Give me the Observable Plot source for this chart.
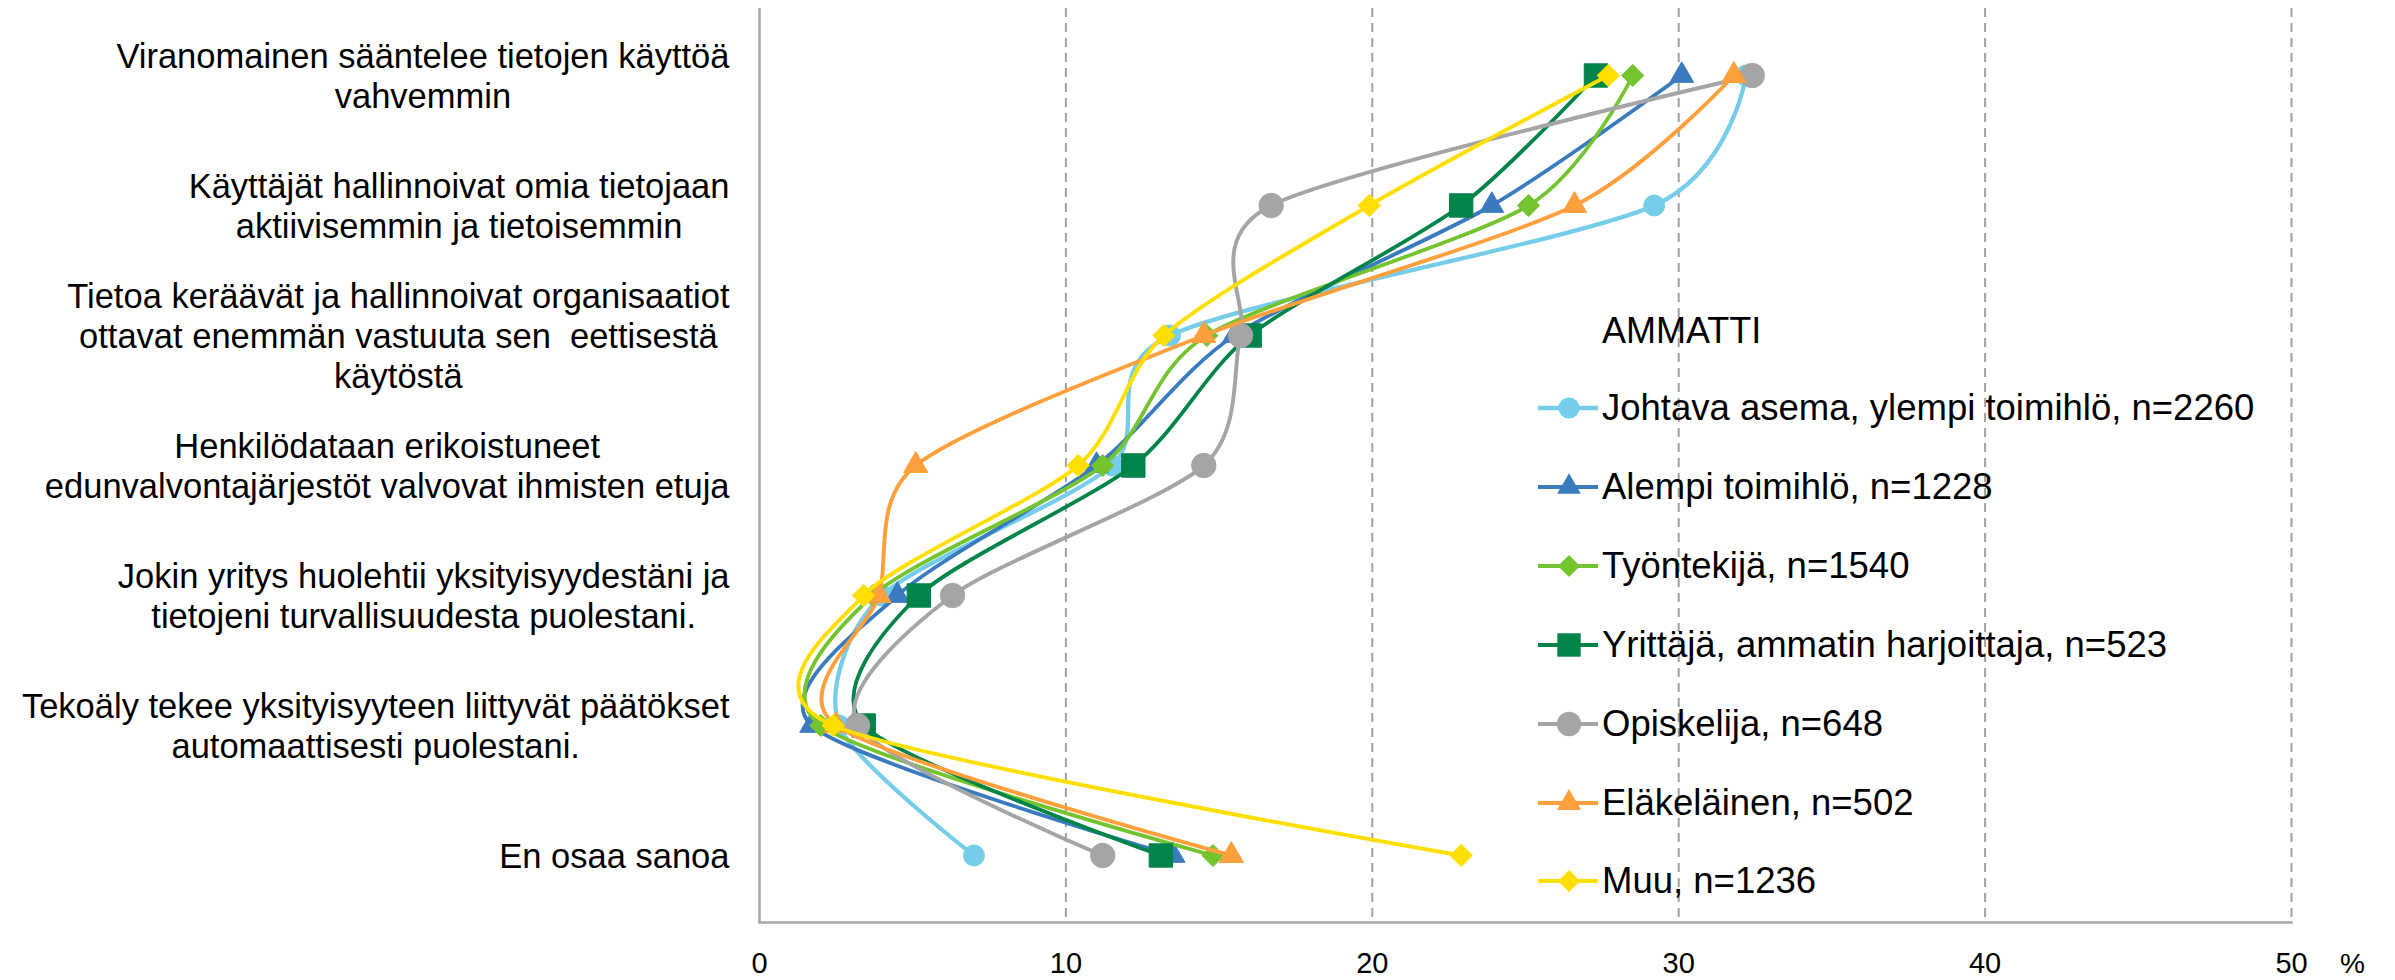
<!DOCTYPE html>
<html><head><meta charset="utf-8">
<script src="https://cdn.jsdelivr.net/npm/d3@7"></script>
<script src="https://cdn.jsdelivr.net/npm/@observablehq/plot@0.6"></script>
<style>
html,body{margin:0;padding:0;background:#fff;}
#wrap{position:relative;width:2395px;height:980px;font-family:"Liberation Sans",Arial,sans-serif;color:#000;}
#legend{position:absolute;left:0;top:0;}
.lg-title{position:absolute;font-size:36px;line-height:40px;white-space:nowrap;}
.lg-row{position:absolute;height:40px;white-space:nowrap;}
.lg-row svg{position:absolute;left:0;top:0;}
.lg-row span{position:absolute;left:66px;top:0;font-size:36.5px;line-height:40px;}
</style></head><body><div id="wrap"></div>
<script>
// ---- data ----
const categories = [
  "Viranomainen sääntelee tietojen käyttöä\nvahvemmin",
  "Käyttäjät hallinnoivat omia tietojaan\naktiivisemmin ja tietoisemmin",
  "Tietoa keräävät ja hallinnoivat organisaatiot\nottavat enemmän vastuuta sen  eettisestä\nkäytöstä",
  "Henkilödataan erikoistuneet\nedunvalvontajärjestöt valvovat ihmisten etuja",
  "Jokin yritys huolehtii yksityisyydestäni ja\ntietojeni turvallisuudesta puolestani.",
  "Tekoäly tekee yksityisyyteen liittyvät päätökset\nautomaattisesti puolestani.",
  "En osaa sanoa"
];
const seriesNames = [
  "Johtava asema, ylempi toimihlö, n=2260",
  "Alempi toimihlö, n=1228",
  "Työntekijä, n=1540",
  "Yrittäjä, ammatin harjoittaja, n=523",
  "Opiskelija, n=648",
  "Eläkeläinen, n=502",
  "Muu, n=1236"
];
const johtava     = [32.2, 29.2, 13.4, 11.5, 4.0, 2.6, 7.0];
const alempi      = [30.1, 23.9, 15.5, 11.0, 4.5, 1.7, 13.5];
const tyontekija  = [28.5, 25.1, 14.6, 11.2, 3.7, 2.0, 14.8];
const yrittaja    = [27.3, 22.9, 16.0, 12.2, 5.2, 3.4, 13.1];
const opiskelija  = [32.4, 16.7, 15.7, 14.5, 6.3, 3.2, 11.2];
const elakelainen = [31.8, 26.6, 14.5, 5.1, 3.9, 2.5, 15.4];
const muu         = [27.7, 19.9, 13.2, 10.4, 3.4, 2.4, 22.9];
const xTicks = [0, 10, 20, 30, 40, 50];
const legendTitle = "AMMATTI";
const unitLabel = "%";

// ---- styling ----
const seriesValues = [johtava, alempi, tyontekija, yrittaja, opiskelija, elakelainen, muu];
const colors  = ["#76CDEA", "#3A7BBF", "#74C42F", "#00844A", "#A5A5A5", "#FFA03C", "#FFDF00"];
const symbols = ["circle", "triangle", "diamond2", "square", "circle", "triangle", "diamond2"];
const radii   = [10.5, 8.8, 10, 13.2, 12.2, 9, 10];
const widths  = [4.3, 3.8, 3.8, 3.8, 3.9, 3.9, 3.9];
const FONT = '"Liberation Sans", Arial, sans-serif';
const W = 2395, H = 980;
const mL = 759, mR = 104, mT = 8, mB = 58;
const catFont = 34.5;

const curve = d3.curveCardinal.tension(0.2);

const ctx = document.createElement("canvas").getContext("2d");
ctx.font = `${catFont}px ${FONT}`;
const labelRight = 729;

const marks = [];
marks.push(Plot.ruleX(xTicks.filter(d => d > 0), {stroke: "#A0A0A0", strokeWidth: 2, strokeDasharray: "9,6"}));
marks.push(Plot.ruleX([0], {stroke: "#A6A6A6", strokeWidth: 2.5}));
marks.push(Plot.frame({anchor: "bottom", stroke: "#A6A6A6", strokeWidth: 2.5}));

seriesNames.forEach((name, i) => {
  const rows = categories.map((c, j) => ({series: name, category: c, value: seriesValues[i][j]}));
  marks.push(Plot.line(rows, {x: "value", y: "category", stroke: colors[i], strokeWidth: widths[i], curve}));
  marks.push(Plot.dot(rows, {x: "value", y: "category", symbol: symbols[i], r: radii[i], fill: colors[i], stroke: colors[i], strokeWidth: 1}));
});

categories.forEach(c => {
  const w = d3.max(c.split("\n"), s => ctx.measureText(s).width);
  marks.push(Plot.text([c], {
    y: d => d, text: d => d, frameAnchor: "left",
    dx: labelRight - w / 2 - mL, textAnchor: "middle", lineAnchor: "middle",
    lineHeight: 1.16, fontSize: catFont, fill: "#000"
  }));
});

marks.push(Plot.text([unitLabel], {text: d => d, frameAnchor: "bottom-right", dx: 61, dy: 42,
  textAnchor: "middle", lineAnchor: "middle", fontSize: 28, fill: "#000"}));

const chart = Plot.plot({
  width: W, height: H,
  marginLeft: mL, marginRight: mR, marginTop: mT, marginBottom: mB,
  style: {fontFamily: FONT, fontSize: "29px", color: "#000", background: "#fff", overflow: "visible"},
  x: {domain: [0, 50], ticks: xTicks, tickSize: 0, tickPadding: 30, label: null},
  y: {type: "point", domain: categories, padding: 0.5, axis: null},
  marks
});
const wrap = document.getElementById("wrap");
wrap.appendChild(chart);

// ---- legend (overlay) ----
const lg = document.createElement("div");
lg.id = "legend";
wrap.appendChild(lg);
const t = document.createElement("div");
t.className = "lg-title"; t.textContent = legendTitle;
t.style.left = "1602px"; t.style.top = (331 - 20) + "px";
lg.appendChild(t);
const symMap = {circle: d3.symbolCircle, triangle: d3.symbolTriangle, diamond2: d3.symbolDiamond2, square: d3.symbolSquare};
seriesNames.forEach((name, i) => {
  const row = document.createElement("div");
  row.className = "lg-row";
  row.style.left = "1536px";
  row.style.top = (408 + i * 78.9 - 20) + "px";
  const svg = d3.create("svg").attr("width", 64).attr("height", 40);
  svg.append("line").attr("x1", 2).attr("x2", 62).attr("y1", 20).attr("y2", 20)
    .attr("stroke", colors[i]).attr("stroke-width", widths[i]);
  svg.append("path").attr("transform", "translate(33,20)")
    .attr("d", d3.symbol(symMap[symbols[i]], Math.PI * radii[i] * radii[i])())
    .attr("fill", colors[i]);
  row.appendChild(svg.node());
  const s = document.createElement("span");
  s.textContent = name;
  row.appendChild(s);
  lg.appendChild(row);
});
</script>
</body></html>
